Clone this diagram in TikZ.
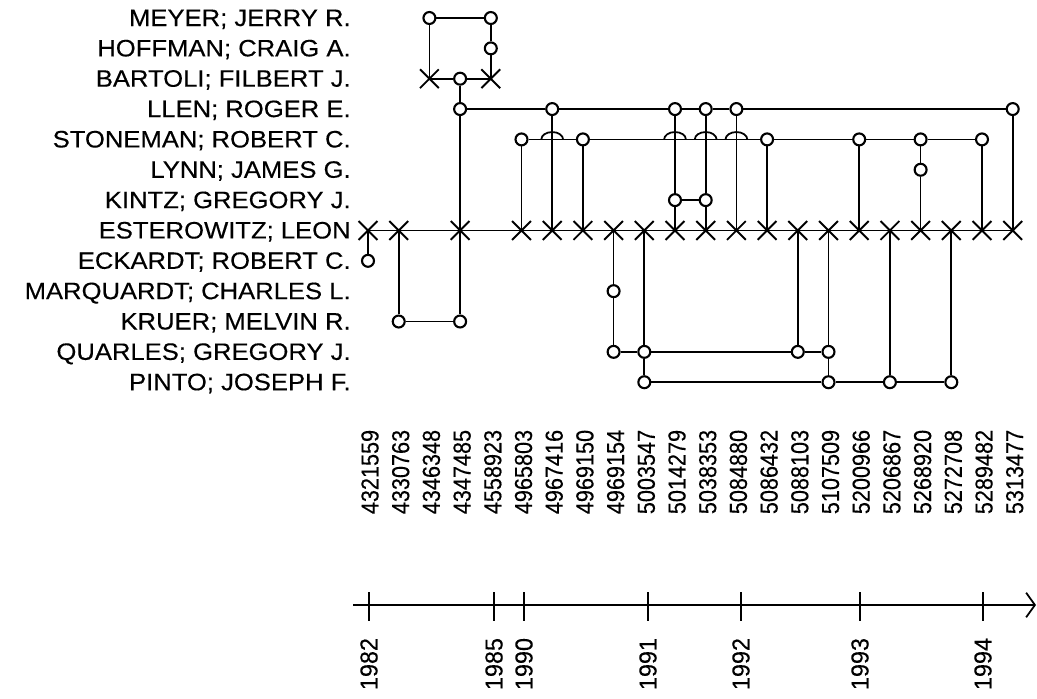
\documentclass[tikz,border=0pt]{standalone}
\usepackage{fontspec}
\setmainfont{Liberation Sans}
\newfontfamily\namefont{Liberation Sans}[FakeStretch=1.08, FakeBold=0.3]
\newfontfamily\numfont{Liberation Sans}[FakeStretch=0.88, FakeBold=0.3]
\newfontfamily\yearfont{Liberation Sans}[FakeStretch=0.95, FakeBold=0.3]
\usepackage{tikz}
\usetikzlibrary{shapes.misc,arrows.meta}

\tikzset{
	inventor/.style={anchor=base east, inner sep=0pt, font=\namefont\fontsize{13.5}{16}\selectfont},
	coinv/.style={circle, draw, line width=1.2pt, fill=white, inner sep=0pt, minimum size=6.8pt},
	owner/.style={cross out, draw, line width=1.1pt, inner sep=0pt, minimum size=9.6pt},
	link/.style={line width=1pt},
	patno/.style={rotate=90, inner sep=0pt, font=\numfont\fontsize{14}{16}\selectfont},
	yearlbl/.style={rotate=90, inner sep=0pt, font=\yearfont\fontsize{14}{16}\selectfont}
}

\begin{document}
\begin{tikzpicture}[x=0.02cm, y=-0.02cm]
		\useasboundingbox (0,0) rectangle (1037,698);
		% 发明人姓名
		\foreach \nm [count=\r from 0] in {MEYER; JERRY R., HOFFMAN; CRAIG A., BARTOLI; FILBERT J., LLEN; ROGER E., STONEMAN; ROBERT C., LYNN; JAMES G., KINTZ; GREGORY J., ESTEROWITZ; LEON, ECKARDT; ROBERT C., MARQUARDT; CHARLES L., KRUER; MELVIN R., QUARLES; GREGORY J., PINTO; JOSEPH F.}
			\node[inventor] (name\r) at (351, {26+30.35*\r}) {\nm};
		% 专利号
		\foreach \pn [count=\c from 0] in {4321559, 4330763, 4346348, 4347485, 4558923, 4965803, 4967416, 4969150, 4969154, 5003547, 5014279, 5038353, 5084880, 5086432, 5088103, 5107509, 5200966, 5206867, 5268920, 5272708, 5289482, 5313477}
			\node[patno] (pat\c) at ({370+30.7*\c}, 472) {\pn};
		% 共同发明人（圆圈）
		\foreach \c/\r in {2/0, 4/0, 4/1, 3/2, 3/3, 6/3, 10/3, 11/3, 12/3, 21/3, 5/4, 7/4, 13/4, 16/4, 18/4, 20/4, 18/5, 10/6, 11/6, 0/8, 8/9, 1/10, 3/10, 8/11, 9/11, 14/11, 15/11, 9/12, 15/12, 17/12, 19/12}
			\node[coinv] (m\c-\r) at ({368+30.7*\c}, {18+30.35*\r}) {};
		% 第一发明人（叉）
		\foreach \c/\r in {2/2, 4/2, 0/7, 1/7, 3/7, 5/7, 6/7, 7/7, 8/7, 9/7, 10/7, 11/7, 12/7, 13/7, 14/7, 15/7, 16/7, 17/7, 18/7, 19/7, 20/7, 21/7}
			\node[owner] (m\c-\r) at ({368+30.7*\c}, {18+30.35*\r}) {};
		% 横线
		\draw[link] (m2-0) -- (m4-0);
		\draw[link] (m2-2.center) -- (m3-2) -- (m4-2.center);
		\draw[link] (m3-3) -- (m6-3) -- (m10-3) -- (m11-3) -- (m12-3) -- (m21-3);
		\draw[link] (m5-4) -- (m7-4) -- (m13-4) -- (m16-4) -- (m18-4) -- (m20-4);
		\draw[link] (m10-6) -- (m11-6);
		\draw[link] (m0-7.center) -- (m21-7.center);
		\draw[link] (m1-10) -- (m3-10);
		\draw[link] (m8-11) -- (m9-11) -- (m14-11) -- (m15-11);
		\draw[link] (m9-12) -- (m15-12) -- (m17-12) -- (m19-12);
		% 跨线弧
		\foreach \c in {6,10,11,12}
			\draw[link] ([xshift=-6.2pt]m\c-3 |- m5-4) arc[start angle=180, end angle=0, x radius=6.2pt, y radius=4.2pt];
		% 竖线
		\draw[link] (m0-7.center) -- (m0-8);
		\draw[link] (m1-7.center) -- (m1-10);
		\draw[link] (m2-0) -- (m2-2.center);
		\draw[link] (m4-0) -- (m4-1) -- (m4-2.center);
		\draw[link] (m3-2) -- (m3-3) -- (m3-7.center) -- (m3-10);
		\foreach \c/\r in {5/4, 6/3, 7/4, 12/3, 13/4, 16/4, 20/4, 21/3}
			\draw[link] (m\c-\r) -- (m\c-7.center);
		\draw[link] (m10-3) -- (m10-6) -- (m10-7.center);
		\draw[link] (m11-3) -- (m11-6) -- (m11-7.center);
		\draw[link] (m18-4) -- (m18-5) -- (m18-7.center);
		\draw[link] (m8-7.center) -- (m8-9) -- (m8-11);
		\draw[link] (m9-7.center) -- (m9-11) -- (m9-12);
		\draw[link] (m14-7.center) -- (m14-11);
		\draw[link] (m15-7.center) -- (m15-11) -- (m15-12);
		\draw[link] (m17-7.center) -- (m17-12);
		\draw[link] (m19-7.center) -- (m19-12);
		% 时间轴
		\coordinate (axisL) at (353,605);
		\coordinate (axisR) at (1036,605);
		\draw[link, -{Straight Barb[length=5pt, width=14pt]}] (axisL) -- (axisR);
		\foreach \yr/\x in {1982/369, 1985/494, 1990/524, 1991/648, 1992/741, 1993/860, 1994/983} {
			\draw[link] (\x,592) -- (\x,621);
			\node[yearlbl] (yr\yr) at (\x,664) {\yr};
		}
	\end{tikzpicture}
\end{document}
